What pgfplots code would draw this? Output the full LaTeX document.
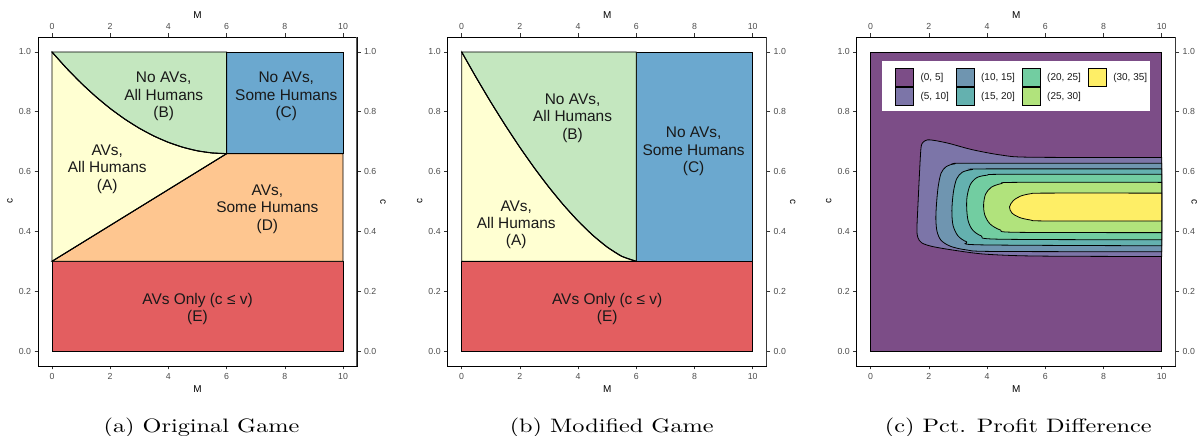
\documentclass[border=0pt]{standalone}
\usepackage{pgfplots}
\pgfplotsset{compat=1.18}
\usepackage{graphicx}
\usepackage{fontspec}
\setsansfont{Liberation Sans}
\renewcommand{\familydefault}{\sfdefault}
\newfontfamily\capfont{lmroman10-regular.otf}
\definecolor{sRed}{RGB}{227,94,96}
\definecolor{sOrange}{RGB}{254,198,144}
\definecolor{sYellow}{RGB}{255,255,210}
\definecolor{sGreen}{RGB}{196,231,191}
\definecolor{sBlue}{RGB}{107,168,207}
\definecolor{v1}{RGB}{124,77,135}
\definecolor{v2}{RGB}{124,117,168}
\definecolor{v3}{RGB}{111,149,176}
\definecolor{v4}{RGB}{100,177,175}
\definecolor{v5}{RGB}{114,205,161}
\definecolor{v6}{RGB}{177,227,124}
\definecolor{v7}{RGB}{254,238,102}
\definecolor{tickgray}{RGB}{77,77,77}
\definecolor{tickmark}{RGB}{51,51,51}
\tikzset{lab/.style={align=center, font=\fontsize{15.5}{17.5}\selectfont, text=black!90}}
\pgfplotsset{
  panel/.style={
    scale only axis, width=319bp, height=329bp,
    xmin=-0.48, xmax=10.48, ymin=-0.05, ymax=1.05,
    xtick={0,2,4,6,8,10}, ytick={0,0.2,0.4,0.6,0.8,1.0},
    tick align=outside, major tick length=3.5bp,
    every tick/.style={tickmark, line width=0.6bp},
    axis line style={black, line width=0.9bp},
    /pgf/number format/assume math mode=true,
    tick label style={font=\fontsize{8.8}{10}\selectfont, text=tickgray},
    yticklabel style={/pgf/number format/.cd, fixed, fixed zerofill, precision=1},
    xticklabel style={/pgf/number format/.cd, fixed, precision=0},
    label style={font=\fontsize{10.7}{12}\selectfont, text=black!85},
    anchor=south west,
  },
  lower/.style={panel,
    xlabel={M}, ylabel={c},
    every axis x label/.style={at={(axis description cs:0.5,-0.070)}, anchor=center},
    every axis y label/.style={at={(axis description cs:-0.088,0.5)}, anchor=center, rotate=90},
  },
  upper/.style={panel,
    xticklabel pos=upper, yticklabel pos=right,
    xlabel={M}, ylabel={c},
    every axis x label/.style={at={(axis description cs:0.5,1.067)}, anchor=center},
    every axis y label/.style={at={(axis description cs:#1,0.5)}, anchor=center, rotate=-90},
  },
  upper/.default=1.0815,
  region/.style={draw=black, line width=0.8bp, forget plot},
}
\begin{document}
\begin{tikzpicture}
\useasboundingbox (0,0) rectangle (1198bp,436bp);
%%%%%%%%%%%%%%%% Panel (a)
\begin{axis}[lower, at={(38bp,70bp)}]
\addplot[region, fill=sRed] coordinates {(0,0) (10,0) (10,0.3) (0,0.3)} -- cycle;
\addplot[region, fill=sOrange] coordinates {(0,0.3) (10,0.3) (10,0.66) (6,0.66)} -- cycle;
\addplot[region, fill=sBlue] coordinates {(6,0.66) (10,0.66) (10,1) (6,1)} -- cycle;
\addplot[region, fill=sYellow] coordinates {(0,0.3) (6,0.66) (5.5,0.6624) (5,0.6694) (4.5,0.6813) (4,0.6978) (3.5,0.7190) (3,0.745) (2.5,0.7757) (2,0.8111) (1.5,0.8513) (1,0.8961) (0.5,0.9457) (0,1)} -- cycle;
\addplot[region, fill=sGreen] coordinates {(0,1) (6,1) (6,0.66) (5.5,0.6624) (5,0.6694) (4.5,0.6813) (4,0.6978) (3.5,0.7190) (3,0.745) (2.5,0.7757) (2,0.8111) (1.5,0.8513) (1,0.8961) (0.5,0.9457)} -- cycle;
\addplot[draw=black, line width=1.1bp, smooth, forget plot] coordinates {(0,1) (0.5,0.9457) (1,0.8961) (1.5,0.8513) (2,0.8111) (2.5,0.7757) (3,0.745) (3.5,0.7190) (4,0.6978) (4.5,0.6813) (5,0.6694) (5.5,0.6624) (6,0.66)};
\addplot[draw=black, line width=1.1bp, forget plot] coordinates {(0,0.3) (6,0.66)};
\node[lab] at (axis cs:3.84,0.851) {No AVs,\\All Humans\\(B)};
\node[lab] at (axis cs:8.05,0.851) {No AVs,\\Some Humans\\(C)};
\node[lab] at (axis cs:1.90,0.609) {AVs,\\All Humans\\(A)};
\node[lab] at (axis cs:7.40,0.475) {AVs,\\Some Humans\\(D)};
\node[lab] at (axis cs:5.0,0.141) {AVs Only (c ≤ v)\\(E)};
\end{axis}
\begin{axis}[upper, at={(38bp,70bp)}]
\draw[black!65, line width=1.2bp] (rel axis cs:1,0) -- (rel axis cs:1,1);
\end{axis}
%%%%%%%%%%%%%%%% Panel (b)
\begin{axis}[lower, at={(447.7bp,70bp)}]
\addplot[region, fill=sRed] coordinates {(0,0) (10,0) (10,0.3) (0,0.3)} -- cycle;
\addplot[region, fill=sBlue] coordinates {(6,0.3) (10,0.3) (10,1) (6,1)} -- cycle;
\addplot[region, fill=sYellow] coordinates {(0,0.3) (6,0.3) (5.5,0.3168) (5,0.3476) (4.5,0.3875) (4,0.4347) (3.5,0.4883) (3,0.5475) (2.5,0.6119) (2,0.6810) (1.5,0.7547) (1,0.8325) (0.5,0.9144) (0,1)} -- cycle;
\addplot[region, fill=sGreen] coordinates {(0,1) (6,1) (6,0.3) (5.5,0.3168) (5,0.3476) (4.5,0.3875) (4,0.4347) (3.5,0.4883) (3,0.5475) (2.5,0.6119) (2,0.6810) (1.5,0.7547) (1,0.8325) (0.5,0.9144)} -- cycle;
\addplot[draw=black, line width=1.1bp, smooth, forget plot] coordinates {(0,1) (0.5,0.9144) (1,0.8325) (1.5,0.7547) (2,0.6810) (2.5,0.6119) (3,0.5475) (3.5,0.4883) (4,0.4347) (4.5,0.3875) (5,0.3476) (5.5,0.3168) (6,0.3)};
\addplot[draw=black, line width=1.1bp, forget plot] coordinates {(0,0.3) (10,0.3)};
\node[lab] at (axis cs:3.81,0.779) {No AVs,\\All Humans\\(B)};
\node[lab] at (axis cs:7.97,0.667) {No AVs,\\Some Humans\\(C)};
\node[lab] at (axis cs:1.875,0.422) {AVs,\\All Humans\\(A)};
\node[lab] at (axis cs:5.0,0.141) {AVs Only (c ≤ v)\\(E)};
\end{axis}
\begin{axis}[upper, at={(447.7bp,70bp)}]
\draw[black!65, line width=1.2bp] (rel axis cs:1,0) -- (rel axis cs:1,1);
\end{axis}
%%%%%%%%%%%%%%%% Panel (c)
\begin{axis}[lower, at={(856.7bp,70bp)},
  legend columns=4, legend cell align=left,
  legend image code/.code={\draw[#1, draw=black, line width=0.6bp] (0bp,-9.15bp) rectangle (18.3bp,9.15bp);},
  legend style={at={(axis cs:0.836,0.946)}, anchor=north west, draw=none, fill=none,
    inner sep=0pt, outer sep=0pt, font=\fontsize{10}{12}\selectfont,
    row sep=0pt, column sep=6.7bp, nodes={inner sep=0pt, text=black!90}},
]
\addplot[region, fill=v1] coordinates {(0,0) (10,0) (10,1) (0,1)} -- cycle;
\addplot[region, smooth, tension=0.5, fill=v2] coordinates {(10,0.647) (5.5,0.648) (4.5,0.655) (3.5,0.673) (2.7,0.694) (2.2,0.704) (1.95,0.706) (1.8,0.698) (1.73,0.68) (1.68,0.60) (1.63,0.50) (1.59,0.41) (1.62,0.38) (1.75,0.362) (2.1,0.350) (2.8,0.338) (3.8,0.325) (5.0,0.319) (6.5,0.317) (10,0.316)} -- cycle;
\addplot[region, smooth, tension=0.5, fill=v3] coordinates {(10,0.628) (3.5,0.628) (2.9,0.626) (2.6,0.617) (2.42,0.595) (2.32,0.55) (2.26,0.49) (2.24,0.44) (2.28,0.40) (2.42,0.37) (2.75,0.35) (3.3,0.338) (4.2,0.333) (10,0.332)} -- cycle;
\addplot[region, smooth, tension=0.5, fill=v4] coordinates {(10,0.609) (4.0,0.609) (3.5,0.607) (3.15,0.598) (2.95,0.575) (2.84,0.53) (2.79,0.47) (2.83,0.42) (3.0,0.385) (3.3,0.365) (3.8,0.355) (10,0.352)} -- cycle;
\addplot[region, smooth, tension=0.5, fill=v5] coordinates {(10,0.591) (4.6,0.591) (4.0,0.588) (3.65,0.580) (3.42,0.556) (3.31,0.515) (3.30,0.475) (3.35,0.435) (3.5,0.405) (3.8,0.385) (4.4,0.374) (10,0.372)} -- cycle;
\addplot[region, smooth, tension=0.5, fill=v6] coordinates {(10,0.564) (5.0,0.564) (4.5,0.560) (4.15,0.548) (3.95,0.525) (3.88,0.49) (3.92,0.455) (4.1,0.425) (4.45,0.405) (5.0,0.397) (10,0.396)} -- cycle;
\addplot[region, smooth, tension=0.5, fill=v7] coordinates {(10,0.528) (6.0,0.528) (5.5,0.526) (5.15,0.518) (4.9,0.503) (4.77,0.482) (4.85,0.462) (5.1,0.447) (5.5,0.438) (6.0,0.435) (10,0.435)} -- cycle;
\addplot[fill=white, draw=none, forget plot] coordinates {(0.40,0.801) (9.61,0.801) (9.61,0.971) (0.40,0.971)} -- cycle;
\addlegendimage{fill=v1}\addlegendentry{(0, 5]}
\addlegendimage{fill=v3}\addlegendentry{(10, 15]}
\addlegendimage{fill=v5}\addlegendentry{(20, 25]}
\addlegendimage{fill=v7}\addlegendentry{(30, 35]}
\addlegendimage{fill=v2}\addlegendentry{(5, 10]}
\addlegendimage{fill=v4}\addlegendentry{(15, 20]}
\addlegendimage{fill=v6}\addlegendentry{(25, 30]}
\end{axis}
\begin{axis}[upper=1.058, at={(856.7bp,70bp)}]
\draw[black!65, line width=1.2bp] (rel axis cs:1,0) -- (rel axis cs:1,1);
\end{axis}
%%%%%%%%%%%%%%%% Captions
\node[anchor=base, font=\capfont\fontsize{19.5}{24}\selectfont] at (201.5bp,4bp) {\scalebox{1.25}[1]{(a) Original Game}};
\node[anchor=base, font=\capfont\fontsize{19.5}{24}\selectfont] at (611.7bp,4bp) {\scalebox{1.25}[1]{(b) Modified Game}};
\node[anchor=base, font=\capfont\fontsize{19.5}{24}\selectfont] at (1018.3bp,4bp) {\scalebox{1.25}[1]{(c) Pct. Profit Difference}};
\end{tikzpicture}
\end{document}
